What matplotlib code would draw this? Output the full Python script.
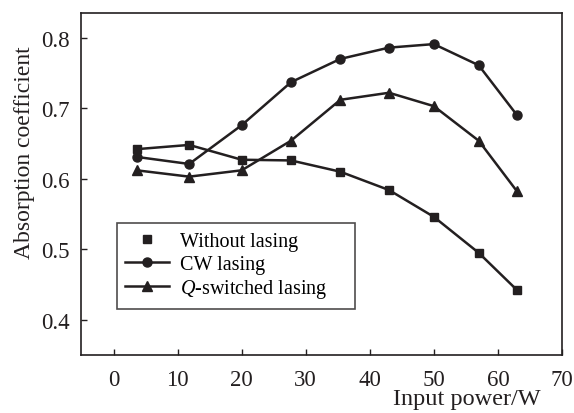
import matplotlib
matplotlib.use("Agg")
import matplotlib.pyplot as plt
from matplotlib.lines import Line2D

power = [3.6, 11.8, 20, 27.7, 35.4, 43, 50, 57, 63]
without_lasing = [0.642, 0.648, 0.627, 0.626, 0.610, 0.584, 0.546, 0.495, 0.442]
cw_lasing = [0.631, 0.621, 0.676, 0.737, 0.770, 0.786, 0.791, 0.761, 0.690]
q_lasing = [0.612, 0.603, 0.612, 0.654, 0.712, 0.722, 0.703, 0.654, 0.582]
xticks = [0, 10, 20, 30, 40, 50, 60, 70]
yticks = [0.4, 0.5, 0.6, 0.7, 0.8]

plt.rcParams['font.family'] = ['Liberation Serif', 'DejaVu Serif']
plt.rcParams['mathtext.fontset'] = 'custom'
plt.rcParams['mathtext.it'] = 'Liberation Serif:italic'
plt.rcParams['mathtext.rm'] = 'Liberation Serif'

c = '#231f20'
fig = plt.figure(figsize=(5.74, 4.14), dpi=100)
ax = fig.add_axes([0.141, 0.140, 0.838, 0.826])

lw = 1.8
ax.plot(power, without_lasing, color=c, lw=lw, marker='s', ms=6)
ax.plot(power, cw_lasing, color=c, lw=lw, marker='o', ms=6.5)
ax.plot(power, q_lasing, color=c, lw=lw, marker='^', ms=6.5)

ax.set_xlim(-5.1, 70)
ax.set_ylim(0.35, 0.835)
ax.set_xticks(xticks)
ax.set_xticklabels([str(t) for t in xticks])
ax.set_yticks(yticks)
ax.set_yticklabels([f'{t:.1f}' for t in yticks])
ax.tick_params(direction='in', length=4, width=1, labelsize=16.5, colors=c)
ax.tick_params(axis='x', pad=10)
ax.tick_params(axis='y', pad=8)
for s in ax.spines.values():
    s.set_linewidth(1.2)
    s.set_color(c)

handles = [
    Line2D([], [], color=c, lw=0, marker='s', ms=6),
    Line2D([], [], color=c, lw=lw, marker='o', ms=6.5),
    Line2D([], [], color=c, lw=lw, marker='^', ms=6.5),
]
labels = ['Without lasing', 'CW lasing', '$Q$-switched lasing']
leg = ax.legend(handles, labels, loc='lower left', bbox_to_anchor=(0.074, 0.1345, 0.495, 0.246),
                mode='expand', fontsize=14.5,
                frameon=True, fancybox=False, edgecolor=c, handlelength=2.2,
                borderpad=0.43, labelspacing=0.18, handletextpad=0.5, borderaxespad=0)
leg.get_frame().set_linewidth(1.2)

fig.text(0.942, 0.022, 'Input power/W', ha='right', va='baseline', fontsize=17.5, color=c)
fig.text(0.042, 0.632, 'Absorption coefficient', rotation=90, ha='center', va='center', fontsize=17, color=c)

fig.savefig('out.png', dpi=100)
